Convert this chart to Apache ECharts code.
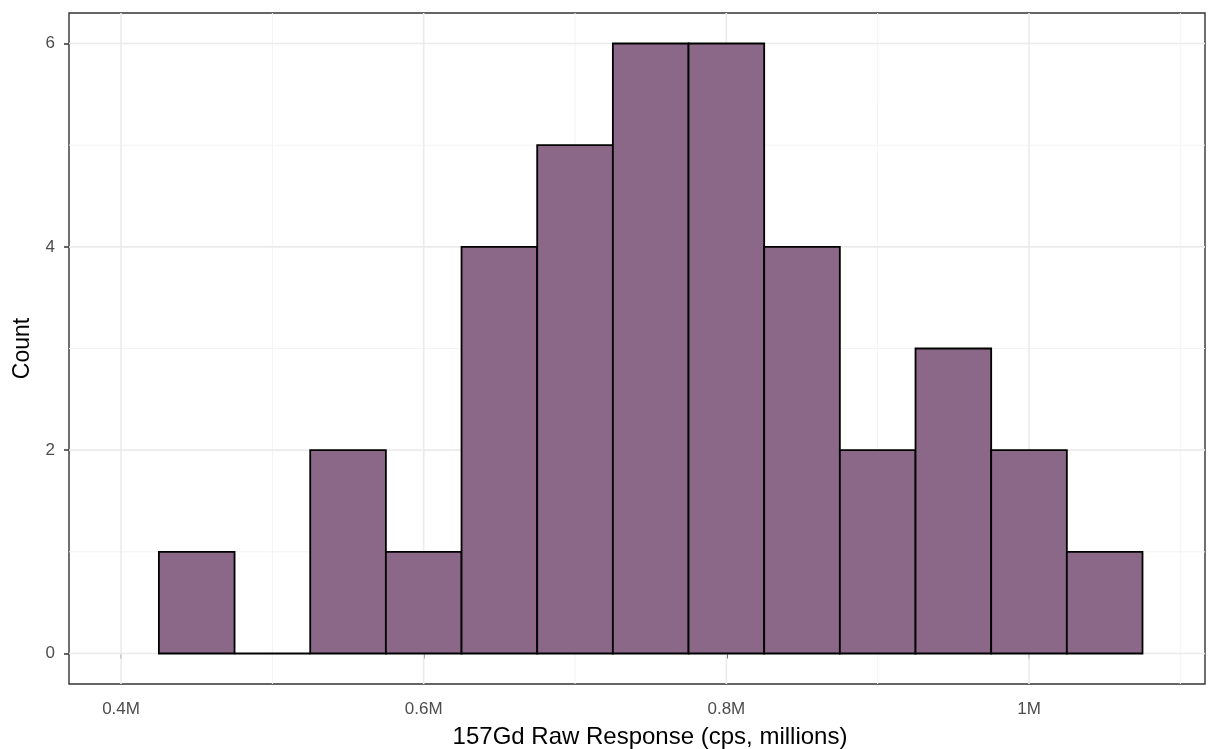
<!DOCTYPE html>
<html>
<head>
<meta charset="utf-8">
<script src="https://cdn.jsdelivr.net/npm/echarts@6/dist/echarts.min.js"></script>
<style>
  html, body { margin: 0; padding: 0; background: #fff; }
  #chart { width: 1217px; height: 749px; }
</style>
</head>
<body>
<div id="chart"></div>
<script>
// Histogram bins (millions of cps) and their counts
const binLeft  = [0.425, 0.475, 0.525, 0.575, 0.625, 0.675, 0.725, 0.775, 0.825, 0.875, 0.925, 0.975, 1.025];
const binRight = [0.475, 0.525, 0.575, 0.625, 0.675, 0.725, 0.775, 0.825, 0.875, 0.925, 0.975, 1.025, 1.075];
const counts   = [1, 0, 2, 1, 4, 5, 6, 6, 4, 2, 3, 2, 1];

// Axis ticks and grid lines
const xMajor = [0.4, 0.6, 0.8, 1.0];
const xMinor = [0.5, 0.7, 0.9, 1.1];
const yMajor = [0, 2, 4, 6];
const yMinor = [1, 3, 5];

const xMin = 0.3656, xMax = 1.1163;
const yMin = -0.3, yMax = 6.3;

const FONT = '"Liberation Sans", Arial, sans-serif';

const chart = echarts.init(document.getElementById('chart'));

// grid lines: [orientation, value, major?]
const gridLines = [];
xMinor.forEach(v => gridLines.push(['x', v, 0]));
yMinor.forEach(v => gridLines.push(['y', v, 0]));
xMajor.forEach(v => gridLines.push(['x', v, 1]));
yMajor.forEach(v => gridLines.push(['y', v, 1]));

const bars = binLeft.map((l, i) => [l, binRight[i], counts[i]]);

chart.setOption({
  animation: false,
  grid: {
    left: 69, right: 12, top: 13, bottom: 65,
    containLabel: false, outerBoundsMode: 'none',
    show: true, borderColor: '#333333', borderWidth: 1.4, backgroundColor: '#ffffff'
  },
  xAxis: {
    type: 'value', min: xMin, max: xMax,
    name: '157Gd Raw Response (cps, millions)',
    nameLocation: 'middle', nameGap: 41,
    nameTextStyle: { fontFamily: FONT, fontSize: 24, color: '#000', padding: [0, 0, 0, 26] },
    axisLine: { show: false },
    splitLine: { show: false },
    axisTick: { show: true, length: 5, lineStyle: { color: '#333', width: 1.5 }, customValues: xMajor },
    axisLabel: {
      customValues: xMajor, margin: 17,
      fontFamily: FONT, fontSize: 17, color: '#4d4d4d',
      formatter: v => (Math.abs(v - 1) < 1e-9 ? '1' : String(+v.toFixed(2))) + 'M'
    }
  },
  yAxis: {
    type: 'value', min: yMin, max: yMax,
    name: 'Count', nameLocation: 'middle', nameGap: 31, nameRotate: 90,
    nameTextStyle: { fontFamily: FONT, fontSize: 23, color: '#000' },
    axisLine: { show: false },
    splitLine: { show: false },
    axisTick: { show: true, length: 5, lineStyle: { color: '#333', width: 1.5 }, customValues: yMajor },
    axisLabel: {
      customValues: yMajor, margin: 14,
      fontFamily: FONT, fontSize: 17, color: '#4d4d4d'
    }
  },
  series: [
    {
      type: 'custom', silent: true, z: 1,
      data: gridLines,
      renderItem: (params, api) => {
        const dir = gridLines[params.dataIndex][0];
        const v = api.value(1);
        const major = api.value(2) === 1;
        let p1, p2;
        if (dir === 'x') { p1 = api.coord([v, yMin]); p2 = api.coord([v, yMax]); }
        else { p1 = api.coord([xMin, v]); p2 = api.coord([xMax, v]); }
        return {
          type: 'line',
          shape: { x1: p1[0], y1: p1[1], x2: p2[0], y2: p2[1] },
          style: { stroke: major ? '#ebebeb' : '#f3f3f3', lineWidth: major ? 1.6 : 1 }
        };
      },
      encode: { x: 1, y: 1 }
    },
    {
      type: 'custom', z: 2,
      data: bars,
      renderItem: (params, api) => {
        const tl = api.coord([api.value(0), api.value(2)]);
        const br = api.coord([api.value(1), 0]);
        return {
          type: 'rect',
          shape: { x: tl[0], y: tl[1], width: br[0] - tl[0], height: br[1] - tl[1] },
          style: { fill: '#8b6788', stroke: '#000000', lineWidth: 1.8 }
        };
      },
      encode: { x: [0, 1], y: 2 }
    }
  ]
});
</script>
</body>
</html>
